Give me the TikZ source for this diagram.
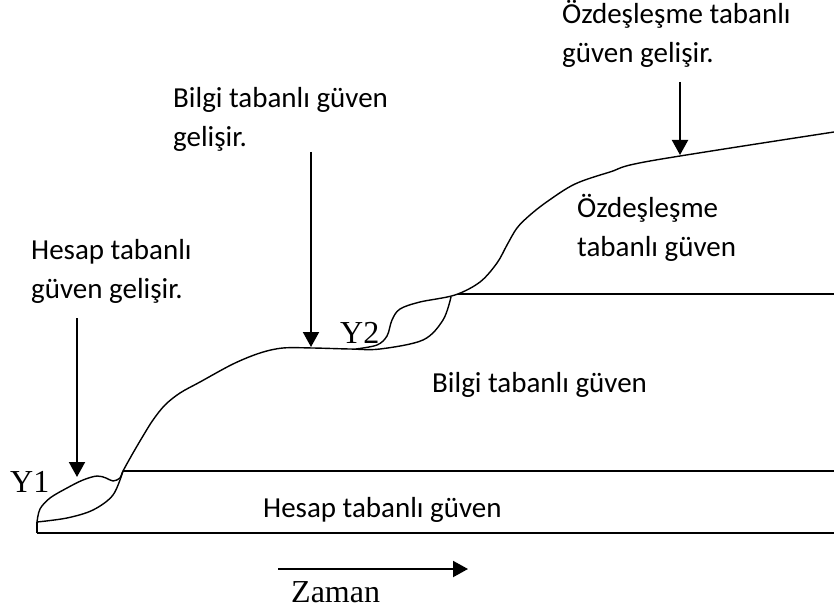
\documentclass[tikz,border=0pt]{standalone}
\usepackage{fontspec}
\setmainfont{Carlito}
\newfontfamily\romanfont{Liberation Serif}
\usetikzlibrary{arrows.meta,positioning}

\begin{document}
\begin{tikzpicture}[
				x=1pt,y=-1pt,
				textlabel/.style={inner sep=0pt,anchor=base west,align=left,font=\fontsize{29}{39}\selectfont},
				tag/.style={inner sep=0pt,anchor=base west,font=\romanfont\fontsize{32}{36}\selectfont},
				curve/.style={line width=1.4pt},
				pointer/.style={-{Triangle[length=15pt,width=16pt]},line width=2pt}
				]
				\useasboundingbox (0,0) rectangle (834,612);
				
				% Testi (base = ultima riga)
				\node[textlabel] (ozdesgel) at (562,63) {Özdeşleşme tabanlı\\güven gelişir.};
				\node[textlabel] (bilgigel) at (173,147) {Bilgi tabanlı güven\\gelişir.};
				\node[textlabel] (hesapgel) at (31,298) {Hesap tabanlı\\güven gelişir.};
				\node[textlabel] (ozdes) at (577,256) {Özdeşleşme\\tabanlı güven};
				\node[textlabel] (bilgi) at (432,392) {Bilgi tabanlı güven};
				\node[textlabel] (hesap) at (263,517) {Hesap tabanlı güven};
				\node[tag] (y1) at (10,492) {Y1};
				\node[tag] (y2) at (340,343) {Y2};
				\node[tag] (zaman) at (291,602) {Zaman};
				
				% Punti
				\coordinate (origin) at (37,533);
				\coordinate (y1a) at (37,522);
				\coordinate (y1b) at (123,471);
				\coordinate (y2b) at (458,294);
				\coordinate (end) at (834,533);
				
				% Livelli
				\draw[curve] (origin) -- (end);
				\draw[curve] (origin) -- (y1a);
				\draw[curve] (y1b) -- (y1b -| end);
				\draw[curve] (y2b) -- (y2b -| end);
				
				% Curva Y1 e primo tratto
				\draw[curve] plot[smooth,tension=0.55] coordinates {(37,522) (67,518) (93,510) (113,495) (123,471)};
				\draw[curve] plot[smooth,tension=0.55] coordinates {(37,522) (40,509) (50,498) (67,488) (83,480) (97,476) (106,478) (113,481) (120,478) (123,471) (133,453) (143,436) (153,420) (165,405) (180,393) (200,382) (233,364) (260,353) (283,348) (313,348) (350,349) (380,349) (423,340) (443,320) (451,297)};
				
				% Curva Y2 e secondo tratto
				\draw[curve] plot[smooth,tension=0.55] coordinates {(356,349) (377,345) (387,336) (392,320) (400,309) (420,302) (455,295) (480,282) (497,263) (507,245) (517,228) (530,215) (548,201) (575,184) (610,172) (650,161) (834,132)};
				
				% Frecce
				\coordinate (a1s) at (77,318);
				\coordinate (a1e) at (77,477);
				\coordinate (a2s) at (311,152);
				\coordinate (a2e) at (311,347);
				\coordinate (a3s) at (680,82);
				\coordinate (a3e) at (680,155);
				\coordinate (zs) at (278,569);
				\coordinate (ze) at (468,569);
				\draw[pointer] (a1s) -- (a1e);
				\draw[pointer] (a2s) -- (a2e);
				\draw[pointer] (a3s) -- (a3e);
				\draw[pointer] (zs) -- (ze);
				
\end{tikzpicture}
\end{document}
